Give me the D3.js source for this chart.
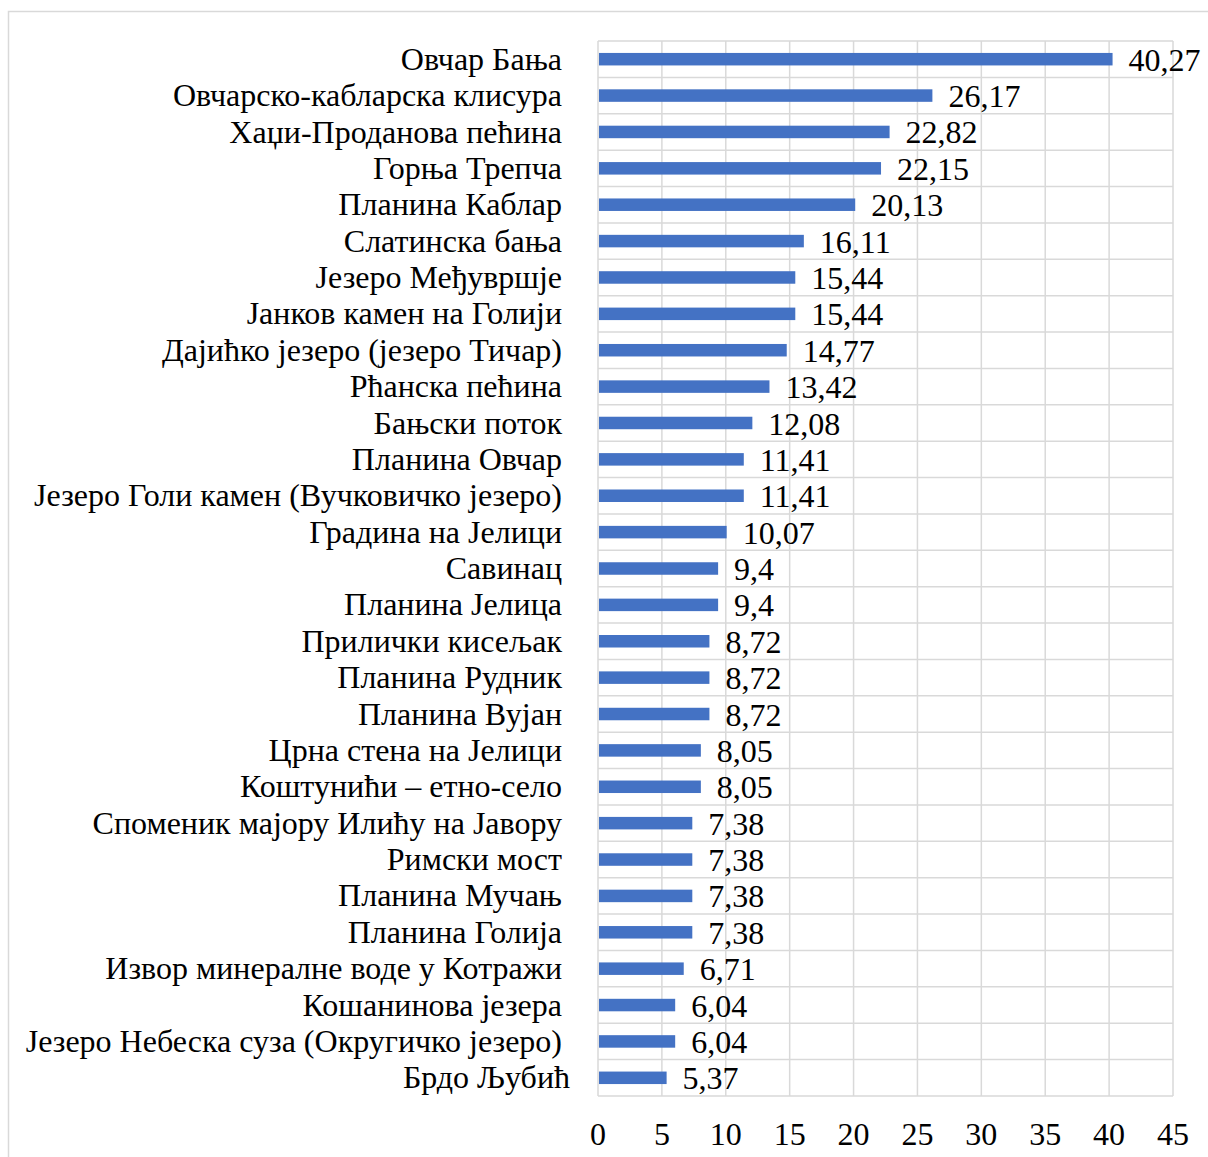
<!DOCTYPE html>
<html>
<head>
<meta charset="utf-8">
<script src="https://cdn.jsdelivr.net/npm/d3@7"></script>
<style>
  body { margin: 0; background: #fff; }
  text { font-family: "Liberation Serif", "Times New Roman", serif; fill: #000; }
</style>
</head>
<body>
<div id="chart"></div>
<script>
// data, top to bottom
var places = [
    "Овчар Бања",
    "Овчарско-кабларска клисура",
    "Хаџи-Проданова пећина",
    "Горња Трепча",
    "Планина Каблар",
    "Слатинска бања",
    "Језеро Међувршје",
    "Јанков камен на Голији",
    "Дајићко језеро (језеро Тичар)",
    "Рћанска пећина",
    "Бањски поток",
    "Планина Овчар",
    "Језеро Голи камен (Вучковичко језеро)",
    "Градина на Јелици",
    "Савинац",
    "Планина Јелица",
    "Прилички кисељак",
    "Планина Рудник",
    "Планина Вујан",
    "Црна стена на Јелици",
    "Коштунићи – етно-село",
    "Споменик мајору Илићу на Јавору",
    "Римски мост",
    "Планина Мучањ",
    "Планина Голија",
    "Извор минералне воде у Котражи",
    "Кошанинова језера",
    "Језеро Небеска суза (Округичко језеро)",
    "Брдо Љубић"
];

var values = [40.27, 26.17, 22.82, 22.15, 20.13, 16.11, 15.44, 15.44, 14.77, 13.42,
    12.08, 11.41, 11.41, 10.07, 9.4, 9.4, 8.72, 8.72, 8.72, 8.05,
    8.05, 7.38, 7.38, 7.38, 7.38, 6.71, 6.04, 6.04, 5.37];

var xTicks = [0, 5, 10, 15, 20, 25, 30, 35, 40, 45];

var svgWidth = 1208;
var svgHeight = 1157;

var margin = {top: 41, right: 35, bottom: 61, left: 598};
var width = svgWidth - margin.left - margin.right;
var height = svgHeight - margin.top - margin.bottom;

var svg = d3.select("#chart")
    .append("svg")
    .attr("width", svgWidth)
    .attr("height", svgHeight);

// outer chart border
svg.append("rect")
    .attr("x", 8.5)
    .attr("y", 11.5)
    .attr("width", 1230)
    .attr("height", 1180)
    .attr("fill", "none")
    .attr("stroke", "#d9d9d9")
    .attr("stroke-width", 1.5);

var chart = svg.append("g")
    .attr("transform", "translate(" + margin.left + "," + margin.top + ")");

var data = places.map(function(p, i) { return {place: p, value: values[i]}; });

var x = d3.scaleLinear()
    .domain([0, 45])
    .range([0, width]);

var y = d3.scaleBand()
    .domain(places)
    .range([0, height])
    .paddingInner(0)
    .paddingOuter(0);

var grid = "#d9d9d9";
var fontSize = "32px";

// vertical gridlines
chart.selectAll(".vgrid")
    .data(xTicks)
    .enter()
    .append("line")
    .attr("x1", function(d) { return x(d); })
    .attr("x2", function(d) { return x(d); })
    .attr("y1", 0)
    .attr("y2", height)
    .attr("stroke", grid)
    .attr("stroke-width", 1.5);

// horizontal lines at category boundaries
var bounds = places.map(function(p) { return y(p); }).concat([height]);
chart.selectAll(".hgrid")
    .data(bounds)
    .enter()
    .append("line")
    .attr("x1", 0)
    .attr("x2", width)
    .attr("y1", function(d) { return d; })
    .attr("y2", function(d) { return d; })
    .attr("stroke", grid)
    .attr("stroke-width", 1.5);

var barH = 12.5;

chart.selectAll(".bar")
    .data(data)
    .enter()
    .append("rect")
    .attr("x", x(0) + 1)
    .attr("y", function(d) { return y(d.place) + y.bandwidth() / 2 - barH / 2; })
    .attr("width", function(d) { return x(d.value) - x(0) - 1; })
    .attr("height", barH)
    .attr("fill", "#4472c4");

// value labels
chart.selectAll(".val")
    .data(data)
    .enter()
    .append("text")
    .attr("x", function(d) { return x(d.value) + 16; })
    .attr("y", function(d) { return y(d.place) + y.bandwidth() / 2; })
    .attr("dy", "0.36em")
    .style("font-size", fontSize)
    .text(function(d) { return String(d.value).replace(".", ","); });

// category labels
chart.selectAll(".cat")
    .data(data)
    .enter()
    .append("text")
    .attr("x", function(d, i) { return i === data.length - 1 ? -28 : -36; })
    .attr("y", function(d) { return y(d.place) + y.bandwidth() / 2; })
    .attr("dy", "0.33em")
    .attr("text-anchor", "end")
    .style("font-size", fontSize)
    .text(function(d) { return d.place; });

// x tick labels
chart.selectAll(".tick")
    .data(xTicks)
    .enter()
    .append("text")
    .attr("x", function(d) { return x(d); })
    .attr("y", height + 37)
    .attr("dy", "0.36em")
    .attr("text-anchor", "middle")
    .style("font-size", fontSize)
    .text(function(d) { return d; });
</script>
</body>
</html>
